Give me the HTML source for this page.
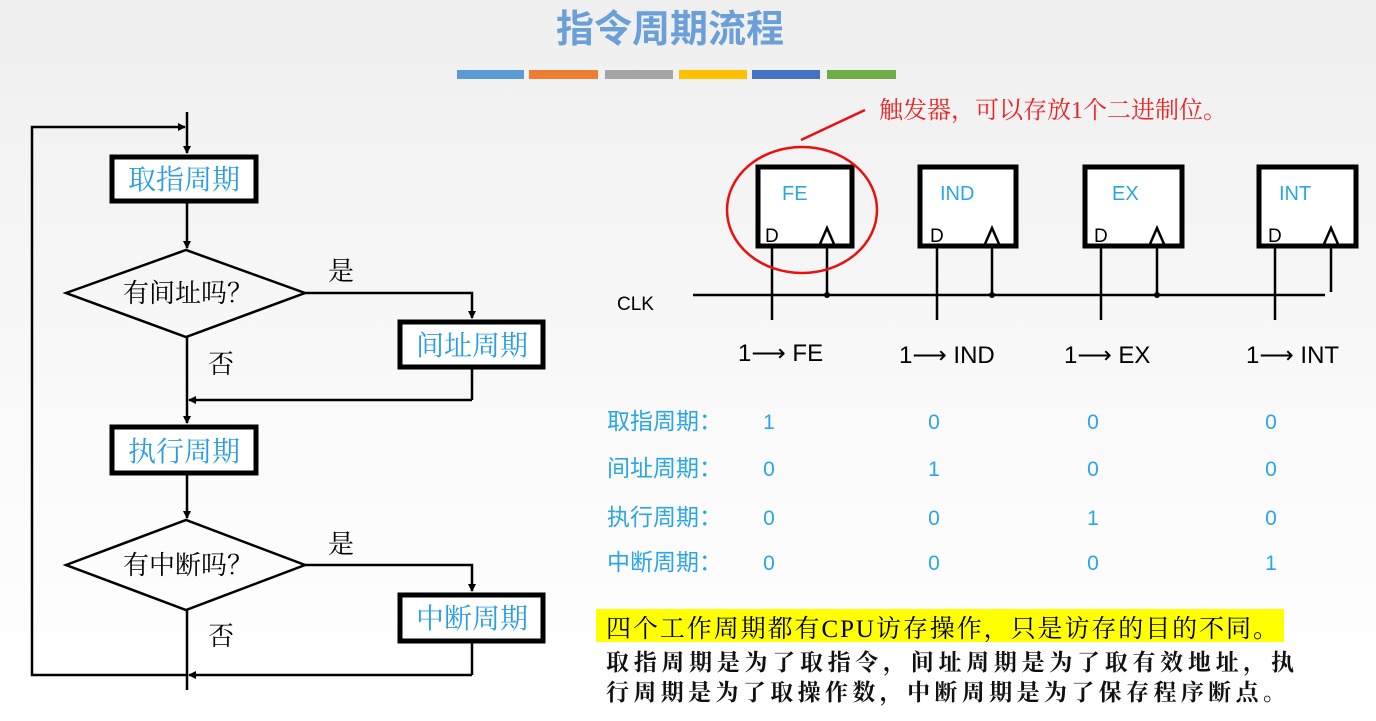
<!DOCTYPE html>
<html><head><meta charset="utf-8"><style>
html,body{margin:0;padding:0;}
body{width:1376px;height:721px;overflow:hidden;background:linear-gradient(#efefef,#fafafa 60%,#fff);}
svg{display:block}
.s{font-family:"Liberation Serif","Noto Serif CJK SC",serif;}
.a{font-family:"Liberation Sans","Noto Sans CJK SC",sans-serif;}
</style></head><body>
<svg width="1376" height="721" viewBox="0 0 1376 721" xmlns="http://www.w3.org/2000/svg">
<defs><marker id="ar" markerWidth="8" markerHeight="8" refX="7" refY="4" orient="auto" markerUnits="userSpaceOnUse"><path d="M0,0 L8,4 L0,8 Z" fill="#000"/></marker></defs>
<text x="670" y="42" text-anchor="middle" class="a" font-size="38" font-weight="bold" fill="#6a9fd8">指令周期流程</text>
<g>
<rect x="457" y="70" width="67" height="9" fill="#5b9bd5"/>
<rect x="529" y="70" width="69" height="9" fill="#ed7d31"/>
<rect x="605" y="70" width="68" height="9" fill="#a5a5a5"/>
<rect x="679" y="70" width="68" height="9" fill="#ffc000"/>
<rect x="752" y="70" width="68" height="9" fill="#4472c4"/>
<rect x="827" y="70" width="69" height="9" fill="#70ad47"/>
</g>
<g stroke="#000" stroke-width="2.5" fill="none">
<line x1="187" y1="112" x2="187" y2="153" marker-end="url(#ar)"/>
<polyline points="187,675 32,675 32,127 185,127" marker-end="url(#ar)"/>
<line x1="187" y1="203" x2="187" y2="248" marker-end="url(#ar)"/>
<polygon points="66,293 186,250 305,293 186,337"/>
<polyline points="305,293 472,293 472,318" marker-end="url(#ar)"/>
<polyline points="472,369 472,400" />
<line x1="472" y1="400" x2="189" y2="400" marker-end="url(#ar)"/>
<line x1="187" y1="337" x2="187" y2="423" marker-end="url(#ar)"/>
<line x1="187" y1="475" x2="187" y2="518" marker-end="url(#ar)"/>
<polygon points="66,565 186,520 305,565 186,610"/>
<polyline points="305,565 472,565 472,591" marker-end="url(#ar)"/>
<line x1="472" y1="643" x2="472" y2="675"/>
<line x1="472" y1="675" x2="189" y2="675" marker-end="url(#ar)"/>
<line x1="187" y1="610" x2="187" y2="690"/>
</g>
<g stroke="#000" stroke-width="5" fill="#fff">
<rect x="112" y="157" width="144" height="44"/>
<rect x="400" y="322" width="143" height="45"/>
<rect x="112" y="427" width="144" height="46"/>
<rect x="400" y="595" width="143" height="46"/>
</g>
<g class="s" font-size="28" fill="#2a9de6">
<text x="184" y="189" text-anchor="middle">取指周期</text>
<text x="472" y="355" text-anchor="middle">间址周期</text>
<text x="184" y="461" text-anchor="middle">执行周期</text>
<text x="472" y="628" text-anchor="middle">中断周期</text>
</g>
<g class="s" font-size="26" fill="#000">
<text x="188" y="302" text-anchor="middle">有间址吗？</text>
<text x="188" y="574" text-anchor="middle">有中断吗？</text>
<text x="328" y="280">是</text>
<text x="328" y="553">是</text>
<text x="208" y="373">否</text>
<text x="208" y="645">否</text>
</g>
<g stroke="#000" stroke-width="5" fill="#fff">
<rect x="758" y="167" width="94" height="79"/>
<rect x="920" y="167" width="96" height="79"/>
<rect x="1085" y="167" width="97" height="79"/>
<rect x="1259" y="167" width="97" height="79"/>
</g>
<g stroke="#000" stroke-width="2.5" fill="none">
<line x1="693" y1="295" x2="1325" y2="295"/>
<line x1="772" y1="246" x2="772" y2="320"/><line x1="827" y1="244" x2="827" y2="295"/>
<line x1="937" y1="246" x2="937" y2="320"/><line x1="992" y1="244" x2="992" y2="295"/>
<line x1="1101" y1="246" x2="1101" y2="320"/><line x1="1157" y1="244" x2="1157" y2="295"/>
<line x1="1275" y1="246" x2="1275" y2="320"/><line x1="1331" y1="244" x2="1331" y2="292"/>
<polyline points="820,244 827,228 834,244"/>
<polyline points="985,244 992,228 999,244"/>
<polyline points="1150,244 1157,228 1164,244"/>
<polyline points="1324,244 1331,228 1338,244"/>
</g>
<g fill="#000"><circle cx="827" cy="295" r="3"/><circle cx="992" cy="295" r="3"/><circle cx="1157" cy="295" r="3"/></g>
<g class="a" font-size="20" fill="#2aa6e8">
<text x="782" y="200">FE</text><text x="940" y="200">IND</text><text x="1112" y="200">EX</text><text x="1279" y="200">INT</text>
</g>
<g class="a" font-size="19" fill="#000">
<text x="765" y="242">D</text><text x="930" y="242">D</text><text x="1094" y="242">D</text><text x="1268" y="242">D</text>
<text x="617" y="310">CLK</text>
</g>
<g class="a" font-size="24" fill="#000">
<text x="738" y="361">1⟶ FE</text>
<text x="899" y="363">1⟶ IND</text>
<text x="1064" y="363">1⟶ EX</text>
<text x="1246" y="363">1⟶ INT</text>
</g>
<ellipse cx="802" cy="210" rx="75" ry="63" fill="none" stroke="#e81010" stroke-width="2.5"/>
<line x1="801" y1="140" x2="865" y2="110" stroke="#e81010" stroke-width="2.5"/>
<text x="879" y="118" class="s" font-size="24" fill="#ee2020">触发器，可以存放1个二进制位。</text>
<g class="a" font-size="23" fill="#2aa6e8">
<text x="607" y="429">取指周期：</text><text x="607" y="476">间址周期：</text><text x="607" y="525">执行周期：</text><text x="607" y="570">中断周期：</text>
<g text-anchor="middle" font-size="21">
<text x="769" y="429">1</text><text x="934" y="429">0</text><text x="1093" y="429">0</text><text x="1271" y="429">0</text>
<text x="769" y="476">0</text><text x="934" y="476">1</text><text x="1093" y="476">0</text><text x="1271" y="476">0</text>
<text x="769" y="525">0</text><text x="934" y="525">0</text><text x="1093" y="525">1</text><text x="1271" y="525">0</text>
<text x="769" y="570">0</text><text x="934" y="570">0</text><text x="1093" y="570">0</text><text x="1271" y="570">1</text>
</g></g>
<rect x="596" y="609" width="688" height="33" fill="#ffff00"/>
<text x="606" y="637" class="s" font-size="25" fill="#000" textLength="672">四个工作周期都有CPU访存操作，只是访存的目的不同。</text>
<g class="s" font-size="23" font-weight="bold" fill="#111">
<text x="606" y="670" textLength="688">取指周期是为了取指令，间址周期是为了取有效地址，执</text>
<text x="606" y="700" textLength="680">行周期是为了取操作数，中断周期是为了保存程序断点。</text>
</g>
</svg>
</body></html>
